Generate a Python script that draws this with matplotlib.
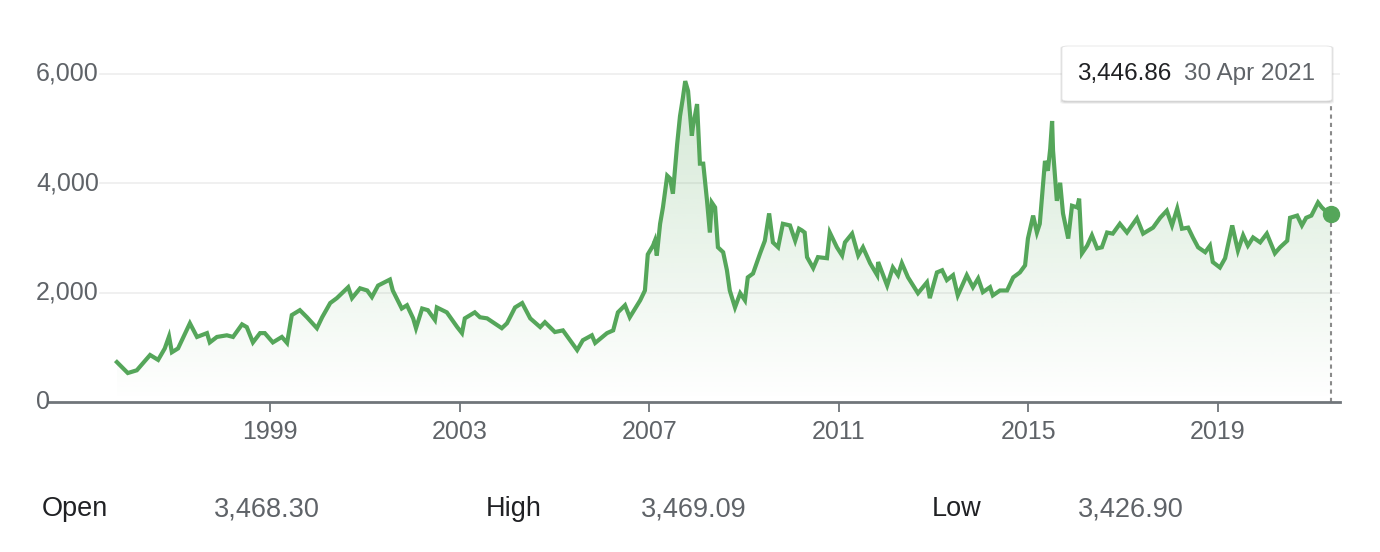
import numpy as np
import matplotlib
matplotlib.use("Agg")
import matplotlib.pyplot as plt
from matplotlib.patches import FancyBboxPatch

plt.rcParams['font.family'] = ['Liberation Sans', 'DejaVu Sans']

# ---- data (decimal years, index level) ----
dates = [
    1995.77, 1996.00, 1996.19, 1996.32, 1996.47, 1996.64, 1996.78, 1996.87, 1996.93, 1997.06,
    1997.31, 1997.46, 1997.67, 1997.73, 1997.88, 1998.09, 1998.22, 1998.41, 1998.51, 1998.64,
    1998.79, 1998.89, 1999.06, 1999.25, 1999.36, 1999.46, 1999.63, 1999.78, 1999.99, 2000.10,
    2000.27, 2000.41, 2000.65, 2000.73, 2000.90, 2001.05, 2001.15, 2001.28, 2001.53, 2001.59,
    2001.78, 2001.89, 2002.02, 2002.08, 2002.21, 2002.33, 2002.48, 2002.52, 2002.73, 2002.95,
    2003.05, 2003.11, 2003.32, 2003.43, 2003.58, 2003.89, 2004.00, 2004.17, 2004.32, 2004.49,
    2004.70, 2004.80, 2005.01, 2005.18, 2005.48, 2005.60, 2005.79, 2005.86, 2006.11, 2006.24,
    2006.34, 2006.49, 2006.59, 2006.81, 2006.91, 2006.97, 2007.08, 2007.12, 2007.16, 2007.23,
    2007.29, 2007.38, 2007.44, 2007.50, 2007.59, 2007.65, 2007.71, 2007.76, 2007.82, 2007.90,
    2007.92, 2008.01, 2008.07, 2008.14, 2008.22, 2008.28, 2008.32, 2008.39, 2008.45, 2008.56,
    2008.64, 2008.70, 2008.81, 2008.92, 2009.02, 2009.08, 2009.19, 2009.34, 2009.44, 2009.53,
    2009.61, 2009.72, 2009.82, 2009.97, 2010.08, 2010.16, 2010.22, 2010.28, 2010.33, 2010.46,
    2010.56, 2010.75, 2010.81, 2010.96, 2011.07, 2011.13, 2011.28, 2011.41, 2011.51, 2011.66,
    2011.81, 2011.83, 2012.02, 2012.14, 2012.25, 2012.33, 2012.46, 2012.67, 2012.86, 2012.92,
    2013.07, 2013.18, 2013.28, 2013.41, 2013.51, 2013.70, 2013.83, 2013.94, 2014.04, 2014.19,
    2014.25, 2014.40, 2014.55, 2014.68, 2014.82, 2014.93, 2014.99, 2015.10, 2015.18, 2015.24,
    2015.35, 2015.41, 2015.46, 2015.50, 2015.52, 2015.60, 2015.67, 2015.73, 2015.84, 2015.92,
    2016.03, 2016.07, 2016.13, 2016.24, 2016.34, 2016.45, 2016.55, 2016.66, 2016.78, 2016.93,
    2017.08, 2017.29, 2017.42, 2017.63, 2017.78, 2017.92, 2018.03, 2018.14, 2018.24, 2018.37,
    2018.47, 2018.58, 2018.73, 2018.83, 2018.89, 2019.04, 2019.15, 2019.30, 2019.42, 2019.53,
    2019.63, 2019.74, 2019.89, 2020.03, 2020.20, 2020.31, 2020.46, 2020.52, 2020.67, 2020.77,
    2020.86, 2020.97, 2021.11, 2021.19, 2021.30, 2021.38,
]
values = [
    730, 530, 580, 710, 860, 770, 980, 1200, 910, 980,
    1440, 1190, 1260, 1090, 1190, 1220, 1190, 1420, 1370, 1090,
    1260, 1260, 1090, 1190, 1080, 1590, 1680, 1550, 1350, 1550,
    1810, 1900, 2100, 1900, 2080, 2040, 1920, 2130, 2240, 2040,
    1710, 1770, 1530, 1350, 1710, 1680, 1500, 1730, 1640, 1370,
    1260, 1530, 1640, 1550, 1530, 1350, 1440, 1730, 1810, 1530,
    1370, 1460, 1280, 1310, 950, 1130, 1220, 1080, 1260, 1310,
    1640, 1770, 1550, 1860, 2040, 2700, 2860, 2950, 2680, 3260,
    3560, 4140, 4090, 3810, 4720, 5230, 5560, 5870, 5690, 4870,
    5020, 5450, 4360, 4360, 3680, 3100, 3650, 3560, 2830, 2740,
    2410, 2040, 1730, 1990, 1860, 2280, 2350, 2720, 2950, 3450,
    2920, 2830, 3260, 3230, 2950, 3170, 3140, 3100, 2650, 2450,
    2650, 2630, 3100, 2830, 2680, 2920, 3080, 2680, 2830, 2540,
    2320, 2560, 2130, 2460, 2320, 2540, 2280, 1990, 2190, 1900,
    2370, 2410, 2230, 2320, 1950, 2320, 2100, 2260, 2010, 2100,
    1950, 2040, 2040, 2280, 2370, 2500, 2990, 3410, 3100, 3260,
    4410, 4230, 4630, 5140, 4600, 3680, 4010, 3450, 2990, 3590,
    3560, 3720, 2720, 2860, 3050, 2810, 2830, 3100, 3080, 3260,
    3100, 3360, 3080, 3190, 3370, 3500, 3230, 3540, 3170, 3190,
    3010, 2830, 2740, 2860, 2560, 2460, 2630, 3230, 2770, 3050,
    2860, 3010, 2920, 3080, 2720, 2830, 2950, 3370, 3410, 3230,
    3370, 3410, 3650, 3560, 3470, 3446.86,
]
xtick_years = [1999, 2003, 2007, 2011, 2015, 2019]
xtick_labels = ['1999', '2003', '2007', '2011', '2015', '2019']
ytick_values = [0, 2000, 4000, 6000]
ytick_labels = ['0', '2,000', '4,000', '6,000']
tooltip_value = '3,446.86'
tooltip_date = '30 Apr 2021'
stat_names = ['Open', 'High', 'Low']
stat_values = ['3,468.30', '3,469.09', '3,426.90']

# ---- style ----
GREEN = '#55a65a'
GRAY = '#70757a'
TXT = '#5f6368'
DARK = '#202124'
W, H = 1380, 552

fig = plt.figure(figsize=(W / 100, H / 100), dpi=100)

def fx(px):
    return px / W

def fy(py):
    return 1 - py / H

# axes occupies pixel x 48..1340, y 40..402
ax_l, ax_r, ax_t, ax_b = 48, 1340, 40, 402
ax = fig.add_axes([fx(ax_l), fy(ax_b), (ax_r - ax_l) / W, (ax_b - ax_t) / H])
px_per_year = 47.4
px_per_unit = (402 - 74) / 6000.0
x0 = 1999 + (ax_l - 270) / px_per_year
x1 = 1999 + (ax_r - 270) / px_per_year
ax.set_xlim(x0, x1)
ax.set_ylim(0, (ax_b - ax_t) / px_per_unit)

d = np.array(dates)
v = np.array(values)

# gridlines
for yv in ytick_values[1:]:
    ax.axhline(yv, xmin=(100 - ax_l) / (ax_r - ax_l), xmax=1, color='#eeeeee', lw=1.2, zorder=0)

# gradient fill under line
poly = ax.fill_between(d, v, 0, color='none', lw=0)
ny = 256
grad = np.zeros((ny, 2, 4))
rgb = matplotlib.colors.to_rgb(GREEN)
ymax_img = 6000.0
alphas = np.linspace(0.0, 0.26, ny)
for i in range(3):
    grad[:, :, i] = rgb[i]
grad[:, :, 3] = alphas[:, None]
im = ax.imshow(grad, extent=[d.min(), d.max(), 0, ymax_img], origin='lower',
               aspect='auto', zorder=1, interpolation='bilinear')
im.set_clip_path(poly.get_paths()[0], transform=ax.transData)
ax.set_xlim(x0, x1)
ax.set_ylim(0, (ax_b - ax_t) / px_per_unit)

# main line
ax.plot(d, v, color=GREEN, lw=3.0, solid_joinstyle='miter', zorder=3)

# hover line + marker
top_frac = (402 - 102) / (ax_b - ax_t)
ax.axvline(d[-1], ymin=0, ymax=top_frac, color='#8a8a8a', lw=1.5,
           linestyle=(0, (2.0, 2.0)), zorder=2)
ax.plot([d[-1]], [v[-1]], 'o', ms=11.5, color=GREEN, zorder=5, clip_on=False)

# axes styling
for s in ['top', 'right', 'left']:
    ax.spines[s].set_visible(False)
ax.spines['bottom'].set_color(GRAY)
ax.spines['bottom'].set_linewidth(2)
ax.set_yticks([])
ax.set_xticks(xtick_years)
ax.set_xticklabels(xtick_labels)
ax.tick_params(axis='x', length=7, width=1.3, color=GRAY, pad=6,
               labelsize=18, labelcolor=TXT)
ax.patch.set_alpha(0)

# y labels (left aligned)
for yv, lab in zip(ytick_values, ytick_labels):
    py = 402 - yv * px_per_unit
    fig.text(fx(36), fy(py), lab, ha='left', va='center', fontsize=18, color=TXT)

# tooltip box with shadow
bx0, by0, bx1, by1 = 1062, 46, 1332, 101
for k, a in [(3, 0.05), (2, 0.08), (1, 0.10)]:
    sh = FancyBboxPatch((fx(bx0 - k + 1), fy(by1 + k)), (bx1 - bx0 + 2 * k - 2) / W, (by1 - by0 + k) / H,
                        boxstyle='round,pad=0,rounding_size=0.004', transform=fig.transFigure,
                        facecolor='black', edgecolor='none', alpha=a, zorder=8)
    fig.patches.append(sh)
box = FancyBboxPatch((fx(bx0), fy(by1)), (bx1 - bx0) / W, (by1 - by0) / H,
                     boxstyle='round,pad=0,rounding_size=0.004', transform=fig.transFigure,
                     facecolor='white', edgecolor='#e6e6e6', lw=0.6, zorder=9)
fig.patches.append(box)
fig.text(fx(1077), fy(74), tooltip_value, ha='left', va='center', fontsize=17.5,
         color=DARK, zorder=10)
fig.text(fx(1184), fy(74), tooltip_date, ha='left', va='center', fontsize=17.5,
         color=TXT, zorder=10)

# bottom stats row
name_x = [42, 486, 932]
val_x = [214, 641, 1078]
for nm, vl, nx, vx in zip(stat_names, stat_values, name_x, val_x):
    fig.text(fx(nx), fy(509), nm, ha='left', va='center', fontsize=19.5, color=DARK)
    fig.text(fx(vx), fy(509), vl, ha='left', va='center', fontsize=19.5, color=TXT)

fig.savefig('out.png', dpi=100)
